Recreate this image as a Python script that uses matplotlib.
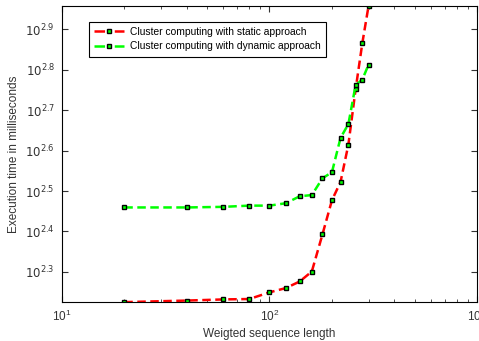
import matplotlib
matplotlib.use("Agg")
import matplotlib.pyplot as plt
from matplotlib.lines import Line2D
from matplotlib.ticker import FixedLocator, FixedFormatter, NullLocator

plt.rcParams["font.family"] = ["Liberation Sans", "DejaVu Sans"]

# sequence lengths
lengths = [20, 40, 60, 80, 100, 120, 140, 160, 180, 200, 220, 240, 260, 280, 300]
# execution times (ms)
static_ms = [168, 169.5, 170.6, 171, 177.6, 182, 189, 200, 247, 300, 333, 412, 564, 733, 906]
dynamic_ms = [288, 288, 289, 291, 291, 295, 307, 309, 340, 352, 428, 463, 578, 596, 649]

y_exponents = [2.3, 2.4, 2.5, 2.6, 2.7, 2.8, 2.9]
labels = ["Cluster computing with static approach",
          "Cluster computing with dynamic approach"]
colors = ["#ff0000", "#00ff00"]

marker_style = dict(marker="s", ms=3.5, mfc="#00ff00", mec="black", mew=1.0)

fig = plt.figure(figsize=(4.79, 3.41), dpi=100)
ax = fig.add_axes([0.129, 0.114, 0.867, 0.868])

for ys, c in zip([static_ms, dynamic_ms], colors):
    ax.plot(lengths, ys, "--", color=c, lw=1.8, dashes=(3.4, 1.8), **marker_style)

ax.set_xscale("log")
ax.set_yscale("log")
ax.set_xlim(10, 1000)
ax.set_ylim(168, 906)

ax.yaxis.set_major_locator(FixedLocator([10 ** e for e in y_exponents]))
ax.yaxis.set_major_formatter(FixedFormatter(["$10^{%.1f}$" % e for e in y_exponents]))
ax.yaxis.set_minor_locator(NullLocator())

ax.tick_params(which="both", direction="in", top=True, right=True, labelsize=8.5,
               colors="#333333")
ax.tick_params(which="major", length=4, pad=5)
ax.tick_params(which="minor", length=2.5)
for s in ax.spines.values():
    s.set_linewidth(0.8)

ax.set_xlabel("Weigted sequence length", fontsize=8.5, color="#333333", labelpad=3)
ax.set_ylabel("Execution time in milliseconds", fontsize=8.5, color="#333333")

# legend sample: dash, marker in the gap, dash
handles = [Line2D([], [], ls="--", color=c, lw=1.8, dashes=(4.22, 3.89), **marker_style)
           for c in colors]
leg = ax.legend(handles, labels, loc="upper left", bbox_to_anchor=(0.052, 0.965),
                fontsize=7.4, fancybox=False, edgecolor="black", framealpha=1,
                handlelength=3.0, borderpad=0.5, labelspacing=0.45, handletextpad=0.5)
leg.get_frame().set_linewidth(0.8)

fig.savefig("out.png", dpi=100)
